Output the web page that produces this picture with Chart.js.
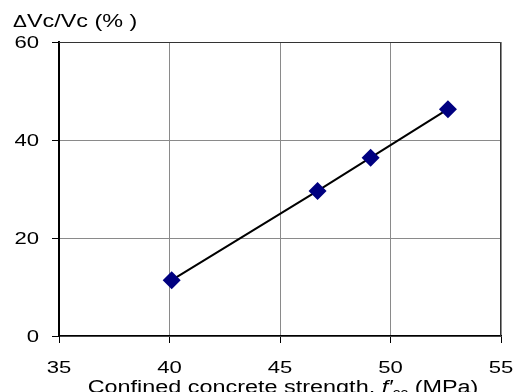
<!DOCTYPE html>
<html>
<head>
<meta charset="utf-8">
<script src="https://cdn.jsdelivr.net/npm/chart.js@4/dist/chart.umd.min.js"></script>
<style>
  html, body { margin: 0; padding: 0; background: #fff; }
  #wrap { width: 520px; height: 392px; }
</style>
</head>
<body>
<div id="wrap"><canvas id="chart" width="520" height="392"></canvas></div>
<script>
// values
const strength = [40.1, 46.7, 49.1, 52.6];
const velocityChange = [11.4, 29.6, 36.4, 46.3];
const xTicks = [35, 40, 45, 50, 55];
const yTicks = [0, 20, 40, 60];

const FONT = "'Liberation Sans', Arial, sans-serif";
const SX = 1.3; // the original picture is stretched sideways

function wideText(ctx, text, x, y, align) {
    ctx.save();
    ctx.translate(x, y);
    ctx.scale(SX, 1);
    ctx.textAlign = align || "left";
    ctx.fillText(text, 0, 0);
    ctx.restore();
}

// frame, tick labels and axis titles
const extras = {
    id: "extras",
    beforeDatasetsDraw(chart) {
        const a = chart.chartArea;
        const ctx = chart.ctx;
        ctx.save();
        ctx.strokeStyle = "#333";
        ctx.lineWidth = 1;
        ctx.beginPath();
        ctx.moveTo(a.left, a.top + 0.5);
        ctx.lineTo(a.right - 0.5, a.top + 0.5);
        ctx.lineTo(a.right - 0.5, a.bottom);
        ctx.stroke();
        ctx.restore();
    },
    afterDraw(chart) {
        const ctx = chart.ctx;
        const xs = chart.scales.x;
        const ys = chart.scales.y;
        ctx.save();
        ctx.fillStyle = "#000";
        ctx.font = "17px " + FONT;

        ctx.textBaseline = "middle";
        yTicks.forEach(v => {
            wideText(ctx, String(v), 39, ys.getPixelForValue(v) + 1, "right");
        });
        ctx.textBaseline = "alphabetic";
        xTicks.forEach(v => {
            wideText(ctx, String(v), xs.getPixelForValue(v), 373, "center");
        });

        // y title
        ctx.font = "16px " + FONT;
        wideText(ctx, "\u0394", 13, 27);
        let w = ctx.measureText("\u0394").width * SX;
        ctx.font = "18px " + FONT;
        wideText(ctx, "Vc/Vc (% )", 13 + w, 27);

        // x title with italic f' and subscript cc
        const parts = [
            { t: "Confined concrete strength, ", f: "18px " + FONT, dy: 0 },
            { t: "f\u2032", f: "italic 18px " + FONT, dy: 0 },
            { t: "cc", f: "12px " + FONT, dy: 4 },
            { t: " (MPa)", f: "18px " + FONT, dy: 0 }
        ];
        let total = 0;
        parts.forEach(p => { ctx.font = p.f; total += ctx.measureText(p.t).width * SX; });
        let x = 283 - total / 2;
        parts.forEach(p => {
            ctx.font = p.f;
            wideText(ctx, p.t, x, 393 + p.dy);
            x += ctx.measureText(p.t).width * SX;
        });
        ctx.restore();
    }
};

new Chart(document.getElementById("chart").getContext("2d"), {
    type: "scatter",
    data: {
        datasets: [{
            data: strength.map((s, i) => ({ x: s, y: velocityChange[i] })),
            showLine: true,
            borderColor: "#000",
            borderWidth: 2,
            pointStyle: "rectRot",
            pointRadius: 9,
            pointHoverRadius: 9,
            pointBackgroundColor: "#000080",
            pointBorderColor: "#000080",
            pointBorderWidth: 0
        }]
    },
    options: {
        responsive: false,
        animation: false,
        layout: { padding: { top: 42, right: 19, left: 0, bottom: 0 } },
        plugins: {
            legend: { display: false },
            tooltip: { enabled: false }
        },
        scales: {
            x: {
                type: "linear",
                min: 35,
                max: 55,
                afterBuildTicks: s => { s.ticks = xTicks.map(v => ({ value: v })); },
                afterFit: s => { s.height = 56; },
                ticks: { display: false },
                grid: { color: "#8a8a8a", tickColor: "#000", tickLength: 7, lineWidth: 1 },
                border: { color: "#000", width: 1.5 }
            },
            y: {
                type: "linear",
                min: 0,
                max: 60,
                afterBuildTicks: s => { s.ticks = yTicks.map(v => ({ value: v })); },
                afterFit: s => { s.width = 59; },
                ticks: { display: false },
                grid: { color: "#8a8a8a", tickColor: "#000", tickLength: 7, lineWidth: 1 },
                border: { color: "#000", width: 2 }
            }
        }
    },
    plugins: [extras]
});
</script>
</body>
</html>
